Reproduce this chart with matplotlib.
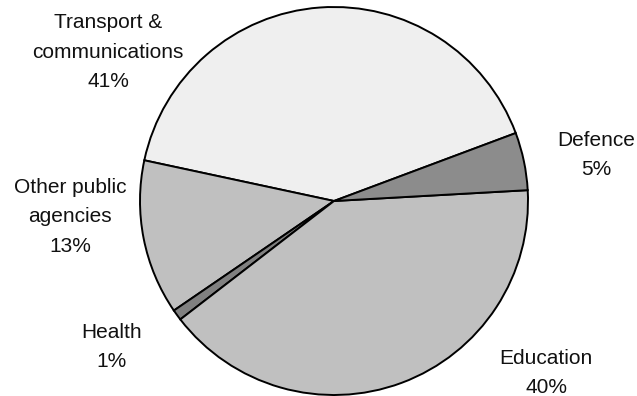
import matplotlib
matplotlib.use("Agg")
import matplotlib.pyplot as plt

# Data (counter-clockwise order starting at the Transport/Defence boundary)
categories = ["Transport &\ncommunications", "Other public\nagencies", "Health", "Education", "Defence"]
shares = [40.9, 12.9, 0.9, 40.4, 4.8]
colors = ["#efefef", "#c0c0c0", "#808080", "#c0c0c0", "#8c8c8c"]

# label positions in pixel coordinates (x, y from top)
label_pos = [(108, 52), (70, 217), (112, 347), (546, 373), (596, 155)]

W, H = 637, 396
fig = plt.figure(figsize=(W / 100, H / 100), dpi=100)
ax = fig.add_axes([0, 0, 1, 1])

ax.pie(shares, colors=colors, startangle=20.5, counterclock=True,
       center=(334, H - 201), radius=194, frame=True,
       wedgeprops=dict(edgecolor="black", linewidth=1.4))
ax.set_xlim(0, W)
ax.set_ylim(0, H)
ax.set_aspect("equal")
ax.axis("off")

for cat, val, (x, y) in zip(categories, shares, label_pos):
    ax.text(x, H - y, f"{cat}\n{round(val):.0f}%", ha="center", va="center",
            fontsize=15, family="Liberation Sans", linespacing=1.68, color="#111111")

fig.savefig("out.png", dpi=100)
